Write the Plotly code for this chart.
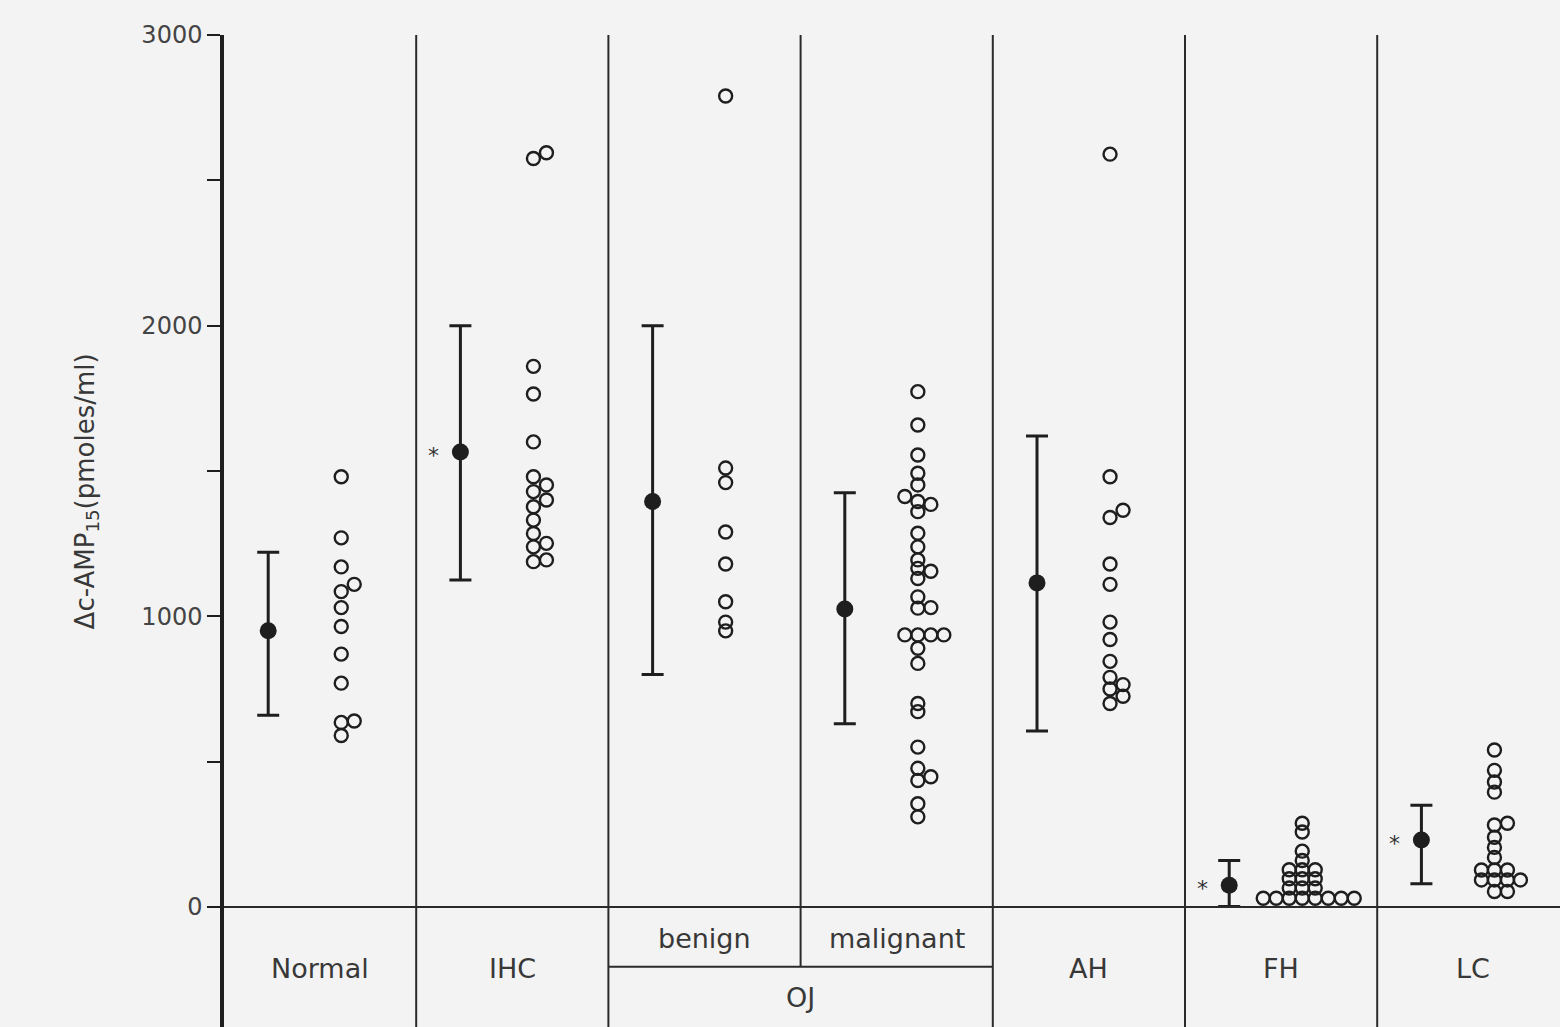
import plotly.graph_objects as go

# ---------------- data ----------------
groups = ["Normal", "IHC", "benign", "malignant", "AH", "FH", "LC"]
super_label = "OJ"

normal = [1480, 1270, 1170, 1110, 1085, 1030, 965, 870, 770, 640, 635, 590]
ihc = [2595, 2575, 1860, 1765, 1600, 1480, 1452, 1429, 1400, 1377, 1331, 1285,
       1251, 1239, 1194, 1188]
benign = [2790, 1510, 1460, 1290, 1180, 1050, 980, 950]
malignant = [1773, 1658, 1555, 1492, 1452, 1412, 1395, 1385, 1360, 1286, 1239,
             1194, 1165, 1155, 1130, 1067, 1030, 1028, 936, 936, 936, 936, 890,
             838, 700, 672, 550, 477, 448, 435, 355, 310]
ah = [2590, 1480, 1365, 1340, 1180, 1110, 980, 920, 845, 790, 765, 750, 725, 700]
fh = [288, 258, 192, 160, 128, 128, 128, 97, 97, 97, 65, 65, 65,
      30, 30, 30, 30, 30, 30, 30, 30]
lc = [540, 470, 430, 395, 288, 282, 240, 205, 170, 127, 127, 127,
      93, 93, 93, 93, 53, 53]
values = [normal, ihc, benign, malignant, ah, fh, lc]

means = [950, 1565, 1395, 1025, 1115, 75, 230]
upper = [1220, 2000, 2000, 1425, 1620, 160, 350]
lower = [660, 1125, 800, 630, 605, 2, 80]
significant = [False, True, False, False, False, True, True]

# ---------------- styling / layout constants ----------------
W, H = 1560, 1027
ML, MT = 224, 35
GROUP_PX = 192.2
X_MAX = (W - ML) / GROUP_PX
Y_MIN, Y_MAX = -413, 3000
MEAN_FRAC = 0.23
PTS_FRAC = 0.61
SLOT_DX = 13 / GROUP_PX
THR = 27.5
INK = "#1e1e1e"
TXT = "#383838"
BG = "#f3f3f3"
FONT = "DejaVu Sans"


def swarm(vals, thr=THR):
    order = sorted(range(len(vals)), key=lambda i: vals[i])
    placed = []
    res = [0] * len(vals)
    cands = [0]
    for k in range(1, 10):
        cands += [k, -k]
    for i in order:
        v = vals[i]
        for k in cands:
            if all(abs(v - pv) >= thr for pv, ps in placed if ps == k):
                break
        placed.append((v, k))
        res[i] = k
    return res


fig = go.Figure()

# individual points
px, py = [], []
for gi, vals in enumerate(values):
    slots = swarm(vals)
    for v, s in zip(vals, slots):
        px.append(gi + PTS_FRAC + s * SLOT_DX)
        py.append(v)
fig.add_trace(go.Scatter(
    x=px, y=py, mode="markers",
    marker=dict(symbol="circle-open", size=13, color=INK, line=dict(width=2.4, color=INK)),
    hoverinfo="y", showlegend=False))

# means with ranges
mx = [gi + MEAN_FRAC for gi in range(len(groups))]
fig.add_trace(go.Scatter(
    x=mx, y=means, mode="markers",
    marker=dict(symbol="circle", size=17, color=INK),
    error_y=dict(type="data", symmetric=False,
                 array=[u - m for u, m in zip(upper, means)],
                 arrayminus=[m - l for m, l in zip(means, lower)],
                 color=INK, thickness=3, width=11),
    showlegend=False))

# asterisks
for gi, sig in enumerate(significant):
    if sig:
        fig.add_annotation(x=mx[gi], y=means[gi], text="*", showarrow=False,
                           xshift=-27, yshift=-3,
                           font=dict(family=FONT, size=22, color="#333"))

# separators and baseline
shapes = []
line_style = dict(color="#2a2a2a", width=2)
for k in range(1, len(groups)):
    y0 = Y_MIN if k != 3 else -206
    shapes.append(dict(type="line", xref="x", yref="y", x0=k, x1=k, y0=y0, y1=Y_MAX,
                       line=line_style))
shapes.append(dict(type="line", xref="x", yref="y", x0=0, x1=X_MAX, y0=0, y1=0,
                   line=line_style))
shapes.append(dict(type="line", xref="x", yref="y", x0=2, x1=4, y0=-206, y1=-206,
                   line=line_style))

# group labels
for gi, name in enumerate(groups):
    yl = -107 if name in ("benign", "malignant") else -210
    fig.add_annotation(x=gi + 0.5, y=yl, text=name, showarrow=False,
                       font=dict(family=FONT, size=27, color=TXT))
fig.add_annotation(x=3, y=-310, text=super_label, showarrow=False,
                   font=dict(family=FONT, size=27, color=TXT))

# y-axis title
fig.add_annotation(xref="paper", yref="y", x=(68 - ML) / (W - ML), y=1428,
                   text="Δc-AMP<sub>15</sub>(pmoles/ml)", textangle=-90,
                   showarrow=False, font=dict(family=FONT, size=26, color=TXT))

fig.update_layout(
    width=W, height=H,
    margin=dict(l=ML, r=0, t=MT, b=0, autoexpand=False),
    paper_bgcolor=BG, plot_bgcolor=BG,
    shapes=shapes,
    xaxis=dict(range=[0, X_MAX], visible=False, fixedrange=True),
    yaxis=dict(range=[Y_MIN, Y_MAX], showgrid=False, zeroline=False,
               tickmode="linear", tick0=0, dtick=1000,
               ticks="outside", ticklen=13, tickwidth=2, tickcolor=INK,
               minor=dict(tickmode="linear", tick0=0, dtick=500, ticks="outside",
                          ticklen=13, tickwidth=2, tickcolor=INK, showgrid=False),
               showline=True, linewidth=3.5, linecolor=INK,
               tickfont=dict(family=FONT, size=24, color="#444"),
               automargin=False, fixedrange=True),
    font=dict(family=FONT),
)

fig.write_html("out.html", config={"displayModeBar": False})
